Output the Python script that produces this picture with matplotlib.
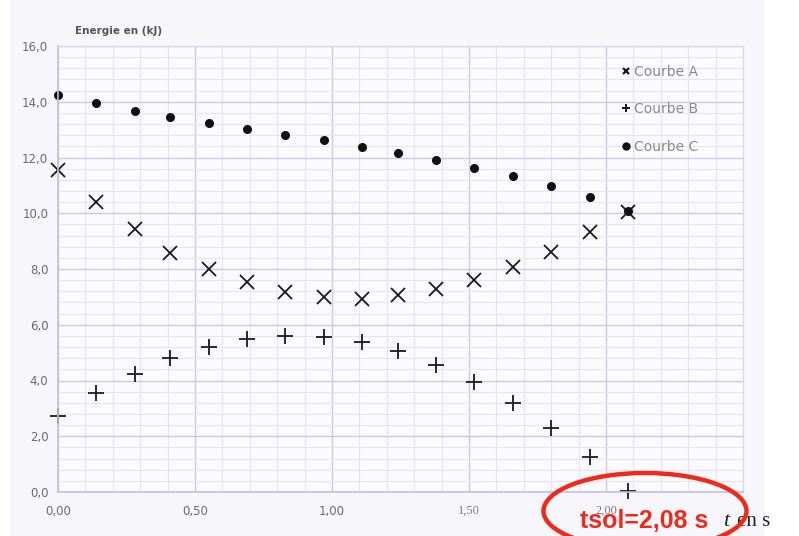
import matplotlib
matplotlib.use('Agg')
import matplotlib.pyplot as plt
import numpy as np
from matplotlib.patches import Ellipse, Rectangle
from matplotlib.lines import Line2D
from matplotlib.ticker import MultipleLocator, FixedLocator

# energies (kJ) against time (s)
t = [0.00, 0.14, 0.28, 0.41, 0.55, 0.69, 0.83, 0.97, 1.11, 1.24, 1.38, 1.52, 1.66, 1.80, 1.94, 2.08]
courbe_a = [11.54, 10.40, 9.43, 8.59, 7.99, 7.52, 7.18, 7.00, 6.94, 7.06, 7.28, 7.62, 8.08, 8.61, 9.31, 10.05]
courbe_b = [2.74, 3.54, 4.25, 4.81, 5.21, 5.48, 5.59, 5.57, 5.37, 5.06, 4.55, 3.95, 3.21, 2.30, 1.24, 0.05]
courbe_c = [14.25, 13.97, 13.68, 13.44, 13.23, 13.01, 12.80, 12.61, 12.37, 12.15, 11.90, 11.62, 11.32, 10.98, 10.58, 10.08]

x_ticks = [0.0, 0.5, 1.0, 1.5, 2.0]
x_labels = ['0,00', '0,50', '1,00', '1,50', '2,00']
y_ticks = [0, 2, 4, 6, 8, 10, 12, 14, 16]
y_labels = ['0,0', '2,0', '4,0', '6,0', '8,0', '10,0', '12,0', '14,0', '16,0']

W, H = 799, 536
fig = plt.figure(figsize=(W / 100, H / 100), dpi=100)
fig.patch.set_facecolor('white')
# paper tint behind the graph
fig.patches.append(Rectangle((10 / W, 0), 755 / W, 1, transform=fig.transFigure,
                             facecolor='#f7f6fb', edgecolor='none', zorder=-10))

ax = fig.add_axes([58 / W, 44 / H, 685 / W, 446 / H])
ax.set_facecolor('#fbfbfe')
ax.set_xlim(0, 2.5)
ax.set_ylim(0, 16)

ax.xaxis.set_major_locator(FixedLocator(x_ticks))
ax.xaxis.set_minor_locator(MultipleLocator(0.1))
ax.yaxis.set_major_locator(FixedLocator(y_ticks))
ax.yaxis.set_minor_locator(MultipleLocator(0.4))
ax.set_xticklabels(x_labels)
ax.set_yticklabels(y_labels)
ax.grid(which='major', color='#cdc7e8', lw=1.0)
ax.grid(which='minor', color='#e8e4f5', lw=0.8)
ax.set_axisbelow(True)
ax.tick_params(which='both', length=0)
ax.tick_params(axis='x', pad=9, labelsize=8.5, labelcolor='#6a6a6a')
ax.tick_params(axis='y', pad=7, labelsize=8.5, labelcolor='#6a6a6a')
for lab in ax.get_xticklabels()[3:]:
    lab.set_fontfamily('Liberation Serif')
    lab.set_fontsize(9)
    lab.set_color('#7a7a7a')
for side in ['left', 'bottom']:
    ax.spines[side].set_color('#c4bde4')
    ax.spines[side].set_linewidth(1.2)
for side in ['right', 'top']:
    ax.spines[side].set_color('#ddd8ef')
    ax.spines[side].set_linewidth(1.0)

ax.plot(t, courbe_a, ls='none', marker='x', ms=10.5, mew=1.3, color='#1a1a1a', clip_on=False)
ax.plot(t, courbe_b, ls='none', marker='+', ms=11.5, mew=1.3, color='#1a1a1a', clip_on=False)
ax.plot(t, courbe_c, ls='none', marker='o', ms=5.5, color='#111111', clip_on=False)

handles = [Line2D([], [], ls='none', marker='x', ms=5, mew=1.6, color='#1a1a1a'),
           Line2D([], [], ls='none', marker='+', ms=6, mew=1.4, color='#1a1a1a'),
           Line2D([], [], ls='none', marker='o', ms=5, color='#111111')]
leg = ax.legend(handles, ['Courbe A', 'Courbe B', 'Courbe C'], loc='upper left',
                bbox_to_anchor=(608 / W, 1 - 52 / H), bbox_transform=fig.transFigure,
                frameon=False, fontsize=10, labelspacing=1.7, handlelength=0.8,
                handletextpad=0.15)
for txt in leg.get_texts():
    txt.set_color('#8a8a8a')

fig.text(75 / W, 1 - 31 / H, 'Energie en (kJ)', fontsize=7.5, fontweight='bold',
         color='#555555', va='center', ha='left')

# axis name on the time axis
fig.text(723 / W, 1 - 521 / H, 't', fontsize=16, style='italic',
         family='Liberation Serif', color='#222222', va='center', ha='left')
fig.text(737 / W, 1 - 521 / H, 'en s', fontsize=15, family='Liberation Serif',
         color='#222222', va='center', ha='left')

# highlighted solution time
fig.patches.append(Ellipse((645 / W, 1 - 511 / H), 203 / W, 76 / H,
                           transform=fig.transFigure, fill=False,
                           edgecolor='#ee2a1b', lw=3.2, zorder=5))
fig.text(644 / W, 1 - 521 / H, 'tsol=2,08 s', fontsize=18, fontweight='bold',
         family='Liberation Sans', color='#ee2a1b', va='center', ha='center', zorder=6)

fig.savefig('out.png', dpi=100)
